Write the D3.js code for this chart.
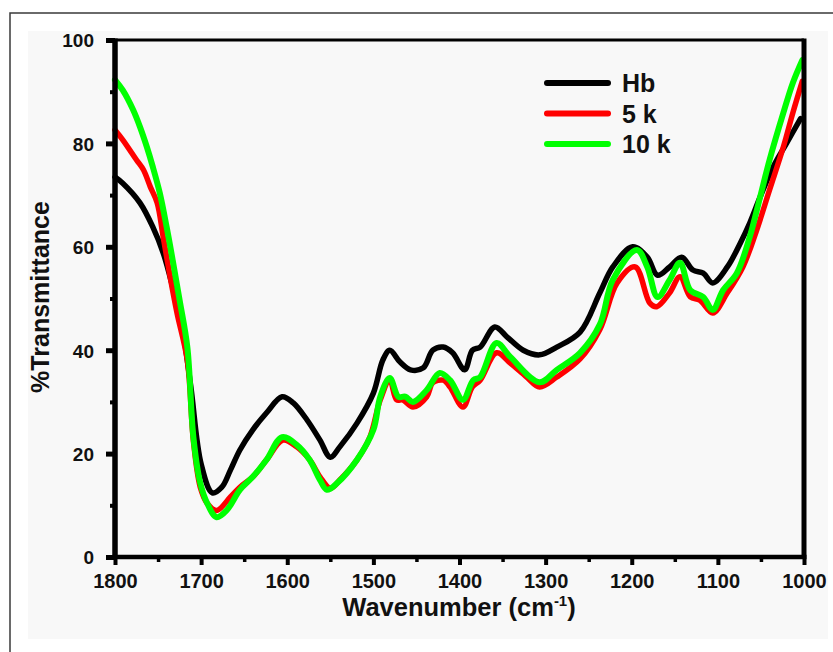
<!DOCTYPE html>
<html><head><meta charset="utf-8">
<script src="https://cdn.jsdelivr.net/npm/d3@7"></script>
<style>body{margin:0;background:#fff}svg{display:block}</style>
</head><body>
<script>
// ---- data ----
const hbX = [1800,1791,1771,1756,1744,1733,1722,1712,1700,1687,1676,1666,1655,1640,1624,1606,1593,1577,1562,1550,1539,1519,1500,1489,1481,1469,1457,1442,1431,1419,1408,1394,1385,1376,1359,1345,1326,1307,1287,1260,1237,1222,1199,1182,1170,1156,1142,1129,1117,1106,1089,1074,1063,1051,1036,1020,1004];
const hbY = [73.5,72.3,68.5,63.8,58.8,52.2,44.5,33,18,12.4,13.5,16.8,20.7,24.6,27.9,31.0,29.8,26.5,22.6,19.3,21.3,25.9,31.7,38.1,40.0,37.7,36.2,36.6,40.0,40.6,39.5,36.2,40.0,40.6,44.5,42.6,40.0,39.1,40.6,43.5,51.1,56.1,60.0,58.0,54.5,56.1,58.0,55.5,54.9,53.0,56.1,60.7,64.6,69.6,75.4,80.1,84.8];
const k5X = [1800,1791,1775,1767,1759,1751,1744,1736,1728,1716,1709,1701,1693,1682,1666,1655,1640,1624,1605,1589,1574,1562,1550,1539,1519,1504,1492,1481,1473,1466,1454,1438,1431,1419,1411,1396,1385,1376,1357,1341,1322,1307,1287,1260,1237,1217,1196,1179,1171,1156,1144,1132,1121,1106,1089,1071,1055,1040,1024,1013,1002];
const k5Y = [82.6,80.7,76.8,74.9,71.6,68.5,61.9,54.2,47.2,38.0,22.5,13.5,10.4,9.0,11.6,13.5,15.5,18.8,22.6,21.3,18.8,15.5,13.3,14.9,18.8,23.2,30.4,34.2,30.4,30.4,29.0,31.0,33.7,34.2,32.9,29.0,32.9,34.2,39.5,37.5,34.8,32.9,34.8,38.3,44.0,53.0,56.1,49.1,48.4,51.1,54.2,50.3,49.7,47.2,51.1,56.1,63.2,71.0,79.3,85.9,92.0];
const k10X = [1800,1791,1779,1771,1763,1756,1748,1740,1733,1725,1716,1709,1701,1693,1682,1670,1655,1640,1624,1606,1589,1574,1562,1554,1542,1519,1500,1492,1481,1471,1463,1454,1438,1423,1411,1396,1384,1376,1357,1341,1307,1287,1260,1237,1222,1194,1182,1170,1156,1144,1132,1117,1106,1094,1078,1063,1051,1040,1024,1013,1002];
const k10Y = [92.3,90.3,86.5,83.2,79.3,75.4,70.4,63.8,57.4,49.7,40.6,23.2,14.3,10.4,7.7,9.1,13.0,15.5,18.8,23.2,21.7,18.8,14.9,13.0,14.3,18.8,24.6,31.0,34.6,31.0,31.0,30.0,32.3,35.6,34.2,30.4,34.2,34.8,41.4,38.7,33.8,36.2,39.5,45.0,53.6,59.4,56.1,50.3,53.6,56.9,51.6,50.3,47.8,51.6,54.9,61.9,69.6,76.8,85.9,91.7,96.1];
const seriesNames = ["Hb","5 k","10 k"];
const seriesColors = ["#000000","#ff0000","#00ff00"];
const xTicks = [1800,1700,1600,1500,1400,1300,1200,1100,1000];
const yTicks = [0,20,40,60,80,100];

const W = 833, H = 652;
const FONT = "Liberation Sans, Arial, sans-serif";
const svg = d3.select("body").append("svg").attr("width",W).attr("height",H);
// frame
svg.append("rect").attr("x",28).attr("y",31).attr("width",800).attr("height",608).attr("fill","#f8f8f8");
svg.append("path").attr("d","M10,655 L10,13 L835,13").attr("fill","none").attr("stroke","#3a3a3a").attr("stroke-width",1.5);

const L=115, R=804, T=40, B=557;
const x = d3.scaleLinear().domain([1800,1000]).range([L,R]);
const y = d3.scaleLinear().domain([0,100]).range([B,T]);

const g = svg.append("g");
// curves
const sets = [[hbX,hbY],[k5X,k5Y],[k10X,k10Y]];
const line = d3.line().x(d=>x(d[0])).y(d=>y(d[1])).curve(d3.curveCatmullRom.alpha(0.5));
sets.forEach((s,i)=>{
  const pts = s[0].map((v,j)=>[v,s[1][j]]);
  g.append("path").datum(pts).attr("d",line).attr("fill","none")
    .attr("stroke",seriesColors[i]).attr("stroke-width",i===2?6:5.5)
    .attr("stroke-linejoin","round").attr("stroke-linecap","round");
});

// axes frame
svg.append("line").attr("x1",L).attr("x2",R).attr("y1",T).attr("y2",T).attr("stroke","#000").attr("stroke-width",3);
svg.append("line").attr("x1",R).attr("x2",R).attr("y1",T-1.5).attr("y2",B).attr("stroke","#000").attr("stroke-width",5);

const xAxis = d3.axisBottom(x).tickValues(xTicks).tickSize(8).tickFormat(d3.format("d"));
const xMinor = d3.axisBottom(x).tickValues(d3.range(1750,1000,-100)).tickSize(5).tickFormat("");
const yAxis = d3.axisLeft(y).tickValues(yTicks).tickSize(9).tickFormat(d3.format("d"));
const yMinor = d3.axisLeft(y).tickValues(d3.range(10,100,20)).tickSize(5).tickFormat("");

function style(sel, w, lw){
  sel.select(".domain").attr("stroke","#000").attr("stroke-width",lw);
  sel.selectAll(".tick line").attr("stroke","#000").attr("stroke-width",w);
  sel.selectAll("text").attr("fill","#111").attr("font-family",FONT).attr("font-weight","bold");
}
const gxm = svg.append("g").attr("transform",`translate(0,${B})`).call(xMinor); style(gxm,3.5,0); gxm.select(".domain").remove();
const gym = svg.append("g").attr("transform",`translate(${L},0)`).call(yMinor); style(gym,4,0); gym.select(".domain").remove();
const gx = svg.append("g").attr("transform",`translate(0,${B})`).call(xAxis);
gx.select(".domain").attr("d",`M${L-2.5},0H${R+2.5}`);
style(gx,4,4.5);
gx.selectAll("text").attr("font-size","20px").attr("y",17).attr("dy","0.71em");
const gy = svg.append("g").attr("transform",`translate(${L},0)`).call(yAxis);
gy.select(".domain").attr("d",`M0,${B+2}V${T-1.5}`);
style(gy,5,5.5);
gy.selectAll("text").attr("font-size","19px").attr("x",-21).attr("dy","0.36em");

// axis titles
const tx = svg.append("text").attr("x",459).attr("y",616).attr("text-anchor","middle")
  .attr("font-family",FONT).attr("font-weight","bold").attr("font-size","25.5px").attr("fill","#111");
tx.append("tspan").text("Wavenumber (cm");
tx.append("tspan").text("-1").attr("font-size","15px").attr("dy","-10");
tx.append("tspan").text(")").attr("dy","10");
svg.append("text").attr("transform","translate(49,297) rotate(-90)").attr("text-anchor","middle")
  .attr("font-family",FONT).attr("font-weight","bold").attr("font-size","25px").attr("fill","#111")
  .text("%Transmittance");

// legend
const lg = svg.append("g");
seriesNames.forEach((n,i)=>{
  const yy = 83 + i*30.5;
  lg.append("line").attr("x1",547).attr("x2",608).attr("y1",yy).attr("y2",yy)
    .attr("stroke",seriesColors[i]).attr("stroke-width",6).attr("stroke-linecap","round");
  lg.append("text").attr("x",622).attr("y",yy+9).text(n)
    .attr("font-family",FONT).attr("font-weight","bold").attr("font-size","25px").attr("fill","#111");
});
</script>
</body></html>
